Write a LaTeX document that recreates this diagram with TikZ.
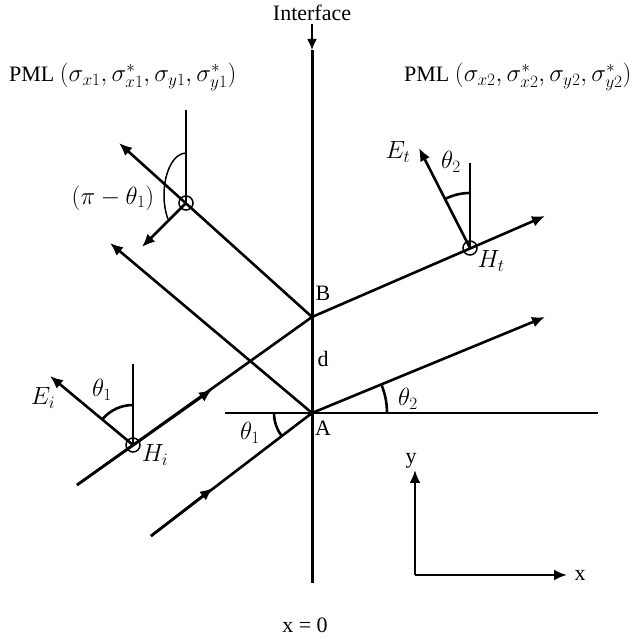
\documentclass[tikz,border=0pt]{standalone}
\usepackage{fontspec}
\setmainfont{Liberation Serif}
\usetikzlibrary{arrows.meta,calc}
\newcommand{\mbig}[1]{{\fontsize{24.5}{27}\selectfont$#1$}}
\begin{document}
\begin{tikzpicture}[x=1pt,y=1pt,
  ray/.style={line width=2.6pt},
  thin/.style={line width=1.5pt},
  tip/.style={-{Latex[length=13pt,width=11pt]}},
  ang/.style={line width=2.6pt},
  hcirc/.style={circle,draw,line width=1.5pt,minimum size=14pt,inner sep=0pt},
  lbl/.style={font=\fontsize{22}{26}\selectfont,inner sep=1pt}]
\useasboundingbox (0,0) rectangle (637,639);
% key points
\coordinate (A) at (312,226);
\coordinate (B) at (312,322);
\coordinate (Itop) at (312,589);
\coordinate (Ibot) at (312,56);
\coordinate (Iarr) at (312,615);
\coordinate (Hl) at (225,226);
\coordinate (Hr) at (598,226);
% incident rays
\coordinate (L1) at (151,103);
\coordinate (L1m) at (213,151);
\coordinate (U1) at (77,154);
\coordinate (Hi) at (133,194);
\coordinate (U1m) at (212,249.5);
% reflected rays
\coordinate (R1) at (110,396);
\coordinate (Hrf) at (186,436);
\coordinate (R2) at (119,496);
\coordinate (Hrfv) at (186,529);
\coordinate (Erf) at (142,392);
% transmitted rays
\coordinate (T1) at (545,322);
\coordinate (Ht) at (470,391);
\coordinate (T2) at (545,423);
\coordinate (Htv) at (470,476);
\coordinate (Et) at (419,491);
% Hi details
\coordinate (Hiv) at (133,275);
\coordinate (Ei) at (50,263);
% axes
\coordinate (O) at (415,64);
\coordinate (Oy) at (415,169);
\coordinate (Ox) at (567,64);

% interface
\draw[line width=3pt] (Itop) -- (Ibot);
\draw[line width=1.8pt,-{Latex[length=11pt,width=10pt]}] (Iarr) -- (Itop);
\node[lbl,anchor=center] (itf) at (312,626) {Interface};
\draw[ray] (Hl) -- (Hr);

% incident
\draw[ray] (L1) -- (A);
\draw[ray,tip] (L1) -- (L1m);
\draw[ray] (U1) -- (B);
\draw[ray,tip] (U1) -- (U1m);

% reflected
\draw[ray,tip] (A) -- (R1);
\draw[ray,tip] (B) -- (R2);
\draw[thin] (Hrf) -- (Hrfv);
\draw[ray,tip] (Hrf) -- (Erf);
\draw[thin] (186,486) arc[start angle=90,end angle=215,x radius=22,y radius=42];
\node[hcirc] (hrfc) at (Hrf) {};

% transmitted
\draw[ray,tip] (A) -- (T1);
\draw[ray,tip] (B) -- (T2);
\draw[thin] (Ht) -- (Htv);
\draw[ray,tip] (Ht) -- (Et);
\draw[ang] (470,446) arc[start angle=90,end angle=117,radius=55];
\node[hcirc] (htc) at (Ht) {};

% Hi
\draw[thin] (Hi) -- (Hiv);
\draw[ray,tip] (Hi) -- (Ei);
\draw[ang] (133,234) arc[start angle=90,end angle=140,radius=40];
\node[hcirc] (hic) at (Hi) {};

% angles at A
\draw[ang] ($(A)+(-38,0)$) arc[start angle=180,end angle=217,radius=38];
\draw[ang] ($(A)+(75,0)$) arc[start angle=0,end angle=22.4,radius=75];

% labels
\node[lbl] (lA) at (323,211) {A};
\node[lbl] (lB) at (323,346) {B};
\node[lbl] (ld) at (323,280) {d};
\node[lbl] (lt1a) at (250,206) {\mbig{\theta_1}};
\node[lbl] (lt2a) at (408,240) {\mbig{\theta_2}};
\node[lbl] (lEi) at (43,241) {\mbig{E_i}};
\node[lbl] (lt1i) at (102,249) {\mbig{\theta_1}};
\node[lbl] (lHi) at (155,184) {\mbig{H_i}};
\node[lbl] (lEt) at (398,487) {\mbig{E_t}};
\node[lbl] (lt2t) at (451,477) {\mbig{\theta_2}};
\node[lbl] (lHt) at (491,378) {\mbig{H_t}};
\node[lbl] (lpi) at (113,441) {\mbig{(\pi-\theta_1)}};
\node[lbl,anchor=west] (pml1) at (8,562) {PML \mbig{(\sigma_{x1},\sigma_{x1}^{*},\sigma_{y1},\sigma_{y1}^{*})}};
\node[lbl,anchor=west] (pml2) at (403,562) {PML \mbig{(\sigma_{x2},\sigma_{x2}^{*},\sigma_{y2},\sigma_{y2}^{*})}};
\node[lbl] (x0) at (305,14) {x = 0};

% axes
\draw[ray,tip] (O) -- (Oy);
\draw[ray,tip] (O) -- (Ox);
\node[lbl] (ly) at (411,178) {y};
\node[lbl] (lx) at (580,64) {x};
\end{tikzpicture}
\end{document}
